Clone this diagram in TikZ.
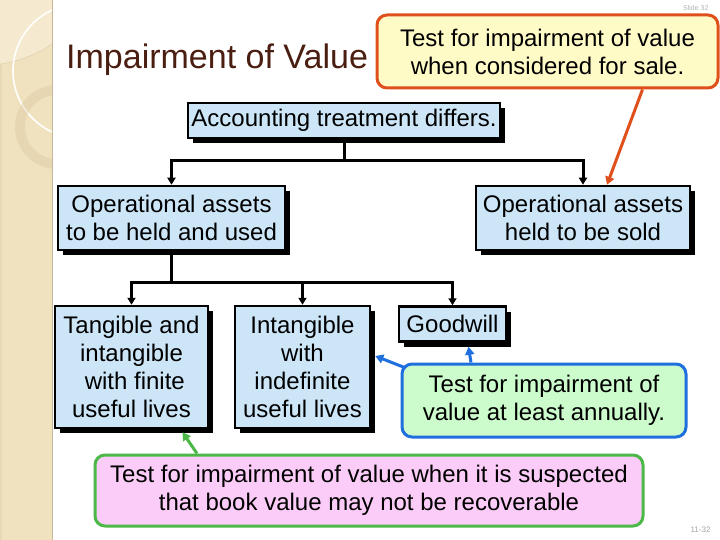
\documentclass[tikz,border=0pt]{standalone}
\usepackage{fontspec}
\setmainfont{Liberation Sans}
\usetikzlibrary{arrows.meta,shadows,calc}
\definecolor{boxblue}{HTML}{CCE6F8}
\definecolor{calloutyellow}{HTML}{FFFBC6}
\definecolor{calloutorange}{HTML}{E0501C}
\definecolor{calloutgreen}{HTML}{CCFBCC}
\definecolor{calloutblue}{HTML}{1F6FDF}
\definecolor{calloutpink}{HTML}{FCCCF8}
\definecolor{pinkborder}{HTML}{4CB848}
\definecolor{titlebrown}{HTML}{4B1E12}
\definecolor{stripbeige}{HTML}{F1E2BF}
\definecolor{striplight}{HTML}{F5EAD0}
\definecolor{stripdark}{HTML}{D6C29C}
\definecolor{stripedge}{HTML}{C4B79A}
\tikzset{
  txt/.style={font=\fontsize{24}{28}\selectfont, align=center, inner sep=0pt},
  bbox/.style={txt, draw=black, line width=2.5pt, fill=boxblue,
    general shadow={fill=black, shadow xshift=5pt, shadow yshift=-5pt}},
  callbox/.style={txt, rounded corners=10pt, line width=3pt},
  conn/.style={line width=3pt, draw=black},
  arr/.style={conn, -{Triangle[length=7pt,width=8pt]}},
  carr/.style={line width=3pt, -{Triangle[length=8pt,width=9pt]}},
}
\begin{document}
\begin{tikzpicture}[x=1pt,y=-1pt]
\useasboundingbox (0,0) rectangle (720,540);
\fill[white] (0,0) rectangle (720,540);
% left decorative strip
\begin{scope}
\clip (0,0) rectangle (52,540);
\fill[stripbeige] (0,0) rectangle (52,540);
\fill[striplight] (0,0) -- (52,0) -- (52,44) .. controls (35,56) and (15,62) .. (0,64) -- cycle;
\draw[stripdark,opacity=0.6,line width=0.6pt] (52,44) .. controls (35,56) and (15,62) .. (0,64);
\draw[white,line width=1.6pt] (80,71) circle (67);
\draw[stripdark,opacity=0.35,line width=10pt] (57,127) circle (37);
\fill[stripdark,opacity=0.3] (0,64) rectangle (2,540);
\end{scope}
\draw[stripedge,line width=1.2pt] (52.6,0) -- (52.6,540);
% small labels
\node[font=\fontsize{7}{8}\selectfont, text=gray!60, anchor=east] (slide) at (712,8) {Slide 32};
\node[font=\fontsize{8}{9}\selectfont, text=gray!70, anchor=east] (pagenum) at (714,530) {11-32};
% title
\node[font=\fontsize{34}{38}\selectfont, text=titlebrown, anchor=west, inner sep=0pt] (title) at (66,60) {Impairment of Value};
% boxes
\node[bbox, minimum width=312, minimum height=35] (acc) at (344,120.5) {Accounting treatment differs.};
\node[bbox, minimum width=227, minimum height=64] (hold) at (171.5,218) {Operational assets\\to be held and used};
\node[bbox, minimum width=214, minimum height=64] (sold) at (583,218) {Operational assets\\held to be sold};
\node[bbox, minimum width=153, minimum height=122] (tang) at (131.5,367) {Tangible and\\intangible\\\ with finite\\useful lives};
\node[bbox, minimum width=135, minimum height=122] (intang) at (302.5,367) {Intangible\\with\\indefinite\\useful lives};
\node[bbox, minimum width=107, minimum height=35] (good) at (452.5,324) {Goodwill};
% connectors
\coordinate (bus1) at (344,161);
\coordinate (bus2) at (171.5,282);
\draw[conn] (acc.south) -- (bus1);
\draw[arr] (bus1) -| (hold.north);
\draw[arr] (bus1) -| (sold.north);
\draw[conn] (hold.south) -- (bus2);
\draw[arr] (bus2) -| (tang.north);
\draw[arr] (bus2) -| (intang.north);
\draw[arr] (bus2) -| (good.north);
% callouts
\node[callbox, draw=calloutorange, fill=calloutyellow, minimum width=341, minimum height=73] (cy) at (547.5,51.5) {Test for impairment of value\\when considered for sale.};
\node[callbox, draw=calloutblue, fill=calloutgreen, minimum width=284, minimum height=73] (cg) at (544,400.5) {Test for impairment of\\value at least annually.};
\node[callbox, draw=pinkborder, fill=calloutpink, minimum width=548, minimum height=71] (cp) at (369,490.5) {Test for impairment of value when it is suspected\\that book value may not be recoverable};
% callout pointers
\draw[carr, calloutorange] ($(cy.south)+(95,0)$) -- ($(sold.north)+(24,0)$);
\draw[carr, calloutblue] ($(cg.north)+(-73,0)$) -- ($(good.south)+(16,4)$);
\draw[carr, calloutblue] ($(cg.north west)+(4,5)$) -- ($(intang.east)+(4,-11)$);
\draw[carr, pinkborder] ($(cp.north)+(-172,0)$) -- ($(tang.south)+(51,3)$);
\end{tikzpicture}
\end{document}
